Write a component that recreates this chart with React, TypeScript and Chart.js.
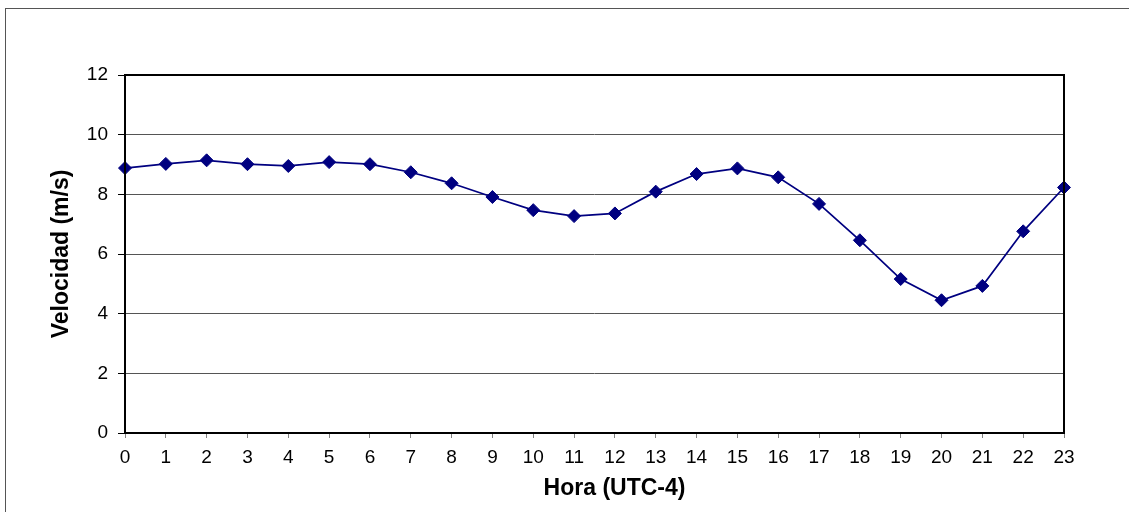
import React, { useEffect, useRef } from "react";
import { Chart, registerables } from "chart.js";

Chart.register(...registerables);

const hours: string[] = ["0","1","2","3","4","5","6","7","8","9","10","11","12","13","14","15","16","17","18","19","20","21","22","23"];
const velocity: number[] = [8.88, 9.02, 9.14, 9.01, 8.95, 9.08, 9.01, 8.74, 8.37, 7.91, 7.47, 7.27, 7.36, 8.09, 8.68, 8.87, 8.57, 7.68, 6.46, 5.16, 4.45, 4.93, 6.76, 8.23];
const yTicks: number[] = [0, 2, 4, 6, 8, 10, 12];
const xTitle = "Hora (UTC-4)";

const FONT = "'Liberation Sans', Arial, sans-serif";

const frame = {
  id: "plotFrame",
  afterDraw(chart: any) {
    const { ctx, chartArea } = chart;
    ctx.save();
    ctx.strokeStyle = "#000";
    ctx.lineWidth = 2;
    ctx.strokeRect(chartArea.left, chartArea.top, chartArea.right - chartArea.left, chartArea.bottom - chartArea.top);
    ctx.fillStyle = "#000";
    ctx.font = `bold 23px ${FONT}`;
    ctx.textAlign = "center";
    ctx.textBaseline = "middle";
    const cx = (chartArea.left + chartArea.right) / 2 + 20;
    ctx.fillText(xTitle, cx, chartArea.bottom + 56);
    ctx.restore();
  },
};

export default function App() {
  const ref = useRef<HTMLCanvasElement>(null);
  useEffect(() => {
    document.body.style.margin = "0";
    const chart = new Chart(ref.current!, {
      type: "line",
      data: {
        labels: hours,
        datasets: [
          {
            data: velocity,
            borderColor: "#000080",
            backgroundColor: "#000080",
            borderWidth: 1.75,
            pointStyle: "rectRot",
            pointRadius: 6.5,
            pointBorderWidth: 1,
            pointBackgroundColor: "#000080",
            pointBorderColor: "#000080",
            tension: 0,
          },
        ],
      },
      options: {
        animation: false,
        responsive: false,
        maintainAspectRatio: false,
        layout: { padding: { top: 75, right: 65, left: 0, bottom: 0 } },
        plugins: { legend: { display: false }, tooltip: { enabled: false } },
        scales: {
          x: {
            type: "category",
            offset: false,
            grid: {
              offset: false,
              drawOnChartArea: false,
              drawTicks: true,
              tickLength: 5,
              tickColor: "#808080",
              tickWidth: 1,
            },
            border: { display: false },
            ticks: {
              color: "#000",
              font: { family: FONT, size: 19 },
              padding: 8,
              maxRotation: 0,
              autoSkip: false,
            },
            title: { display: false },
            afterFit(scale: any) {
              scale.height = 79;
            },
          },
          y: {
            min: 0,
            max: 12,
            afterBuildTicks(scale: any) {
              scale.ticks = yTicks.map((v) => ({ value: v }));
            },
            grid: {
              color: "#555",
              lineWidth: 1,
              drawTicks: true,
              tickLength: 7,
              tickColor: "#000",
              tickWidth: 1,
            },
            border: { display: false },
            ticks: {
              color: "#000",
              font: { family: FONT, size: 19 },
              padding: 10,
            },
            title: {
              display: true,
              text: "Velocidad (m/s)",
              color: "#000",
              font: { family: FONT, size: 23, weight: "bold" },
              padding: { top: 48, bottom: 0 },
            },
            afterFit(scale: any) {
              scale.width = 125;
            },
          },
        },
      },
      plugins: [frame],
    });
    return () => chart.destroy();
  }, []);

  return (
    <div style={{ position: "relative", width: 1129, height: 512, overflow: "hidden", background: "#fff" }}>
      <div
        style={{
          position: "absolute",
          left: 5,
          top: 8,
          width: 1200,
          height: 600,
          border: "1px solid #555",
          boxSizing: "border-box",
        }}
      />
      <canvas ref={ref} width={1129} height={512} style={{ position: "absolute", left: 0, top: 0, display: "block" }} />
    </div>
  );
}
